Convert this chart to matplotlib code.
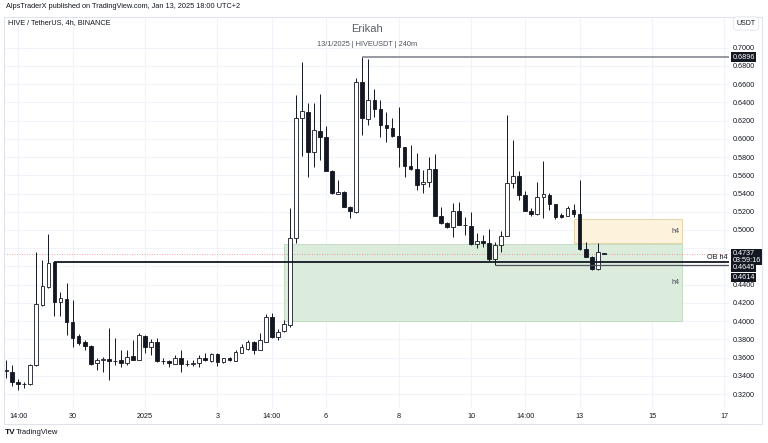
import numpy as np
import pandas as pd
import matplotlib
matplotlib.use("Agg")
import matplotlib.pyplot as plt
from matplotlib.patches import Rectangle

plt.rcParams['font.family'] = ['Liberation Sans', 'DejaVu Sans']

# HIVE/USDT 4h candles, first bar Dec 28 2024 06:00 (UTC+2)
start = pd.Timestamp("2024-12-28 06:00")
opens = [0.3455, 0.3445, 0.3336, 0.3310, 0.3311, 0.3519, 0.4177, 0.4378, 0.4645, 0.4213,
         0.4243, 0.3994, 0.3840, 0.3768, 0.3731, 0.3538, 0.3574, 0.3581, 0.3566, 0.3574,
         0.3538, 0.3618, 0.3574, 0.3840, 0.3713, 0.3775, 0.3566, 0.3566, 0.3530, 0.3592,
         0.3530, 0.3535, 0.3538, 0.3599, 0.3566, 0.3640, 0.3555, 0.3592, 0.3566, 0.3654,
         0.3691, 0.3775, 0.3684, 0.3775, 0.4049, 0.3829, 0.3892, 0.3958, 0.4909, 0.6225,
         0.6298, 0.5859, 0.6089, 0.6017, 0.5650, 0.5395, 0.5420, 0.5256, 0.5201, 0.6627,
         0.6218, 0.6426, 0.6327, 0.6152, 0.6122, 0.6031, 0.5907, 0.5705, 0.5666, 0.5505,
         0.5530, 0.5669, 0.5153, 0.5080, 0.5030, 0.5208, 0.5055, 0.5047, 0.4846, 0.4879,
         0.4861, 0.4679, 0.4835, 0.4934, 0.5512, 0.5592, 0.5384, 0.5212, 0.5175, 0.5365,
         0.5384, 0.5285, 0.5161, 0.5157, 0.5219, 0.5175, 0.4788, 0.4707, 0.4569, 0.4745]
highs = [0.3574, 0.3519, 0.3365, 0.3336, 0.3530, 0.4762, 0.4671, 0.4953, 0.4650, 0.4323,
         0.4418, 0.4232, 0.3860, 0.3793, 0.3740, 0.3596, 0.3610, 0.3925, 0.3815, 0.3684,
         0.3684, 0.3793, 0.3873, 0.3848, 0.3804, 0.3815, 0.3596, 0.3570, 0.3629, 0.3684,
         0.3574, 0.3574, 0.3629, 0.3647, 0.3647, 0.3647, 0.3599, 0.3610, 0.3684, 0.3749,
         0.3793, 0.3786, 0.3867, 0.4079, 0.4086, 0.3911, 0.4013, 0.5238, 0.6481, 0.6846,
         0.6396, 0.6390, 0.6492, 0.6141, 0.5655, 0.5548, 0.5425, 0.5263, 0.6664, 0.6896,
         0.6872, 0.6543, 0.6426, 0.6298, 0.6225, 0.6346, 0.5912, 0.5932, 0.5841, 0.5658,
         0.5804, 0.5834, 0.5256, 0.5085, 0.5299, 0.5310, 0.5146, 0.5201, 0.4970, 0.4945,
         0.5008, 0.4872, 0.4992, 0.6262, 0.5987, 0.5650, 0.5431, 0.5238, 0.5530, 0.5757,
         0.5402, 0.5290, 0.5186, 0.5263, 0.5285, 0.5548, 0.4872, 0.4712, 0.4854, 0.4750]
lows = [0.3376, 0.3292, 0.3245, 0.3267, 0.3299, 0.3508, 0.4166, 0.4364, 0.4060, 0.4060,
        0.3848, 0.3720, 0.3738, 0.3684, 0.3519, 0.3464, 0.3445, 0.3354, 0.3519, 0.3500,
        0.3519, 0.3570, 0.3570, 0.3647, 0.3629, 0.3555, 0.3530, 0.3494, 0.3525, 0.3445,
        0.3508, 0.3508, 0.3500, 0.3566, 0.3555, 0.3508, 0.3544, 0.3566, 0.3560, 0.3647,
        0.3684, 0.3640, 0.3680, 0.3770, 0.3812, 0.3793, 0.3884, 0.3939, 0.4854, 0.5812,
        0.5578, 0.5694, 0.5768, 0.5645, 0.5395, 0.5390, 0.5250, 0.5128, 0.5183, 0.6042,
        0.6152, 0.6243, 0.6017, 0.5969, 0.6017, 0.5694, 0.5578, 0.5660, 0.5439, 0.5403,
        0.5475, 0.5150, 0.5068, 0.5022, 0.4920, 0.5050, 0.4945, 0.4840, 0.4799, 0.4817,
        0.4663, 0.4614, 0.4762, 0.4930, 0.5457, 0.5329, 0.5208, 0.5153, 0.5170, 0.5128,
        0.5219, 0.5117, 0.5132, 0.5153, 0.5146, 0.4780, 0.4700, 0.4565, 0.4565, 0.4732]
closes = [0.3460, 0.3336, 0.3314, 0.3312, 0.3519, 0.4188, 0.4386, 0.4638, 0.4213, 0.4254,
          0.3994, 0.3812, 0.3757, 0.3731, 0.3527, 0.3574, 0.3580, 0.3566, 0.3560, 0.3541,
          0.3610, 0.3574, 0.3848, 0.3713, 0.3768, 0.3566, 0.3563, 0.3538, 0.3592, 0.3530,
          0.3535, 0.3540, 0.3592, 0.3574, 0.3640, 0.3555, 0.3592, 0.3574, 0.3665, 0.3713,
          0.3775, 0.3684, 0.3793, 0.4049, 0.3829, 0.3884, 0.3969, 0.4909, 0.6225, 0.6309,
          0.5859, 0.6097, 0.6023, 0.5650, 0.5403, 0.5420, 0.5256, 0.5212, 0.6627, 0.6225,
          0.6426, 0.6327, 0.6152, 0.6122, 0.6031, 0.5907, 0.5705, 0.5666, 0.5494, 0.5530,
          0.5669, 0.5157, 0.5073, 0.5036, 0.5212, 0.5055, 0.5052, 0.4846, 0.4883, 0.4861,
          0.4679, 0.4835, 0.4934, 0.5519, 0.5592, 0.5384, 0.5212, 0.5175, 0.5365, 0.5391,
          0.5285, 0.5146, 0.5146, 0.5238, 0.5175, 0.4788, 0.4707, 0.4569, 0.4762, 0.4737]

tick_times = ["2024-12-28 14:00", "2024-12-30 02:00", "2025-01-01 02:00", "2025-01-03 02:00",
              "2025-01-04 14:00", "2025-01-06 02:00", "2025-01-08 02:00", "2025-01-10 02:00",
              "2025-01-11 14:00", "2025-01-13 02:00", "2025-01-15 02:00", "2025-01-17 02:00"]
tick_labels = ["14:00", "30", "2025", "3", "14:00", "6", "8", "10", "14:00", "13", "15", "17"]
price_ticks = np.arange(0.32, 0.7001, 0.02)
hidden_ticks = [0.48, 0.46]   # covered by the price labels

# zones: (start, end, bottom, top)
demand_zone = ("2025-01-04 22:00", "2025-01-15 22:00", 0.4002, 0.4843)
supply_zone = ("2025-01-12 22:00", "2025-01-15 22:00", 0.4860, 0.5117)
# levels: (start, price)
levels = [("2025-01-07 02:00", 0.6896), ("2024-12-29 14:00", 0.4645), ("2025-01-10 18:00", 0.4614)]
last_price = 0.4737
countdown = "03:59:16"


def bar_pos(t):
    return (pd.Timestamp(t) - start) / pd.Timedelta(hours=4)


W, H = 768, 443
fig = plt.figure(figsize=(W / 100, H / 100), dpi=100)
fig.patch.set_facecolor("white")
ax = fig.add_axes([4 / W, 1 - 408 / H, (729 - 4) / W, (408 - 17) / H])
x0, x1 = -0.36, 119.75
ax.set_xlim(x0, x1)
ax.set_ylim(0.3047, 0.7337)

ink = "#131722"
ax.set_yticks(price_ticks)
ax.set_yticklabels(["" if min(abs(v - h) for h in hidden_ticks) < 1e-6 else "%.4f" % v
                    for v in price_ticks])
ax.yaxis.tick_right()
ax.set_xticks([bar_pos(t) for t in tick_times])
ax.set_xticklabels(tick_labels)
ax.tick_params(axis="both", length=0, labelsize=5.2, colors=ink)
ax.tick_params(axis="y", pad=3)
ax.tick_params(axis="x", pad=3.3)
ax.grid(True, color="#f0f3fa", lw=0.8, zorder=0)
ax.set_axisbelow(True)
for s in ax.spines.values():
    s.set_visible(False)

# zones
for (t0, t1, lo, hi), fc, ec in [(demand_zone, "#dcecdc", "#bcd9bc"), (supply_zone, "#fdf2dc", "#e3cc9c")]:
    ax.add_patch(Rectangle((bar_pos(t0), lo), bar_pos(t1) - bar_pos(t0), hi - lo,
                           fc=fc, ec=ec, lw=0.6, zorder=1))
    ax.text(bar_pos(t1) - 0.4, (lo + hi) / 2, "h4", ha="right", va="center",
            fontsize=5.2, color="#434651", zorder=5)

ax.axhline(last_price, color="#f23645", lw=0.6, ls=(0, (1, 2)), alpha=0.6, zorder=2)

lv_colors = ["#868993", "#131722", "#50535e"]
lv_widths = [1.2, 1.3, 0.9]
for (t, p), c, w in zip(levels, lv_colors, lv_widths):
    ax.hlines(p, bar_pos(t), x1, color=c, lw=w, zorder=6)
ax.text(x1 - 0.2, 0.4645 + 0.0012, "OB h4", ha="right", va="bottom", fontsize=5.2, color=ink, zorder=7)

# candles
xs = np.arange(len(opens))
o = np.array(opens)
c = np.array(closes)
bull = c >= o
ax.vlines(xs, lows, highs, color=ink, lw=0.7, zorder=3)
body_lo = np.minimum(o, c)
body_h = np.maximum(np.abs(c - o), 0.0004)
ax.bar(xs, body_h, bottom=body_lo, width=0.62,
       color=np.where(bull, "white", ink), edgecolor=ink, linewidth=0.6, zorder=4)

# price axis labels
lab = dict(xycoords=("axes fraction", "data"), textcoords="offset points", ha="left",
           va="center", fontsize=5.2, annotation_clip=False, zorder=10)
box = dict(boxstyle="square,pad=0.18", fc=ink, ec="none")
ax.annotate("0.6896", xy=(1, 0.6896), xytext=(2.4, 0), color="white", bbox=box, **lab)
ax.annotate("0.4737\n" + countdown, xy=(1, last_price), xytext=(2.4, -2.4), color="white",
            bbox=box, linespacing=0.95, **lab)
ax.annotate("0.4645", xy=(1, 0.4645), xytext=(2.4, -3.6), color="white", bbox=box, **lab)
ax.annotate("0.4614", xy=(1, 0.4614), xytext=(2.4, -8.8), color="white", bbox=box, **lab)

# frame and texts
fig.add_artist(Rectangle((4 / W, 1 - 424 / H), (762 - 4) / W, (424 - 17) / H,
                         transform=fig.transFigure, fill=False, ec="#e0e3eb", lw=0.8))
fig.text(6 / W, 1 - 7 / H, "AlpsTraderX published on TradingView.com, Jan 13, 2025 18:00 UTC+2",
         fontsize=5.3, va="center", color=ink)
fig.text(8 / W, 1 - 22.7 / H, "HIVE / TetherUS, 4h, BINANCE", fontsize=5.3, va="center", color=ink)
fig.text(366.5 / W, 1 - 29.5 / H, "Erikah", ha="center", va="center", fontsize=8, color="#5d606b")
fig.text(367 / W, 1 - 44.3 / H, "13/1/2025 | HIVEUSDT | 240m", ha="center", va="center",
         fontsize=5.3, color="#50535e")
fig.text(746 / W, 1 - 23.5 / H, "USDT", ha="center", va="center", fontsize=5, color=ink,
         bbox=dict(boxstyle="round,pad=0.45", fc="white", ec="#e0e3eb", lw=0.6))
fig.text(5 / W, 1 - 433 / H, "TV", fontsize=6, fontweight="bold", va="center", color=ink)
fig.text(16 / W, 1 - 433 / H, "TradingView", fontsize=5.5, va="center", color=ink)

fig.savefig("out.png", dpi=100, facecolor="white")
